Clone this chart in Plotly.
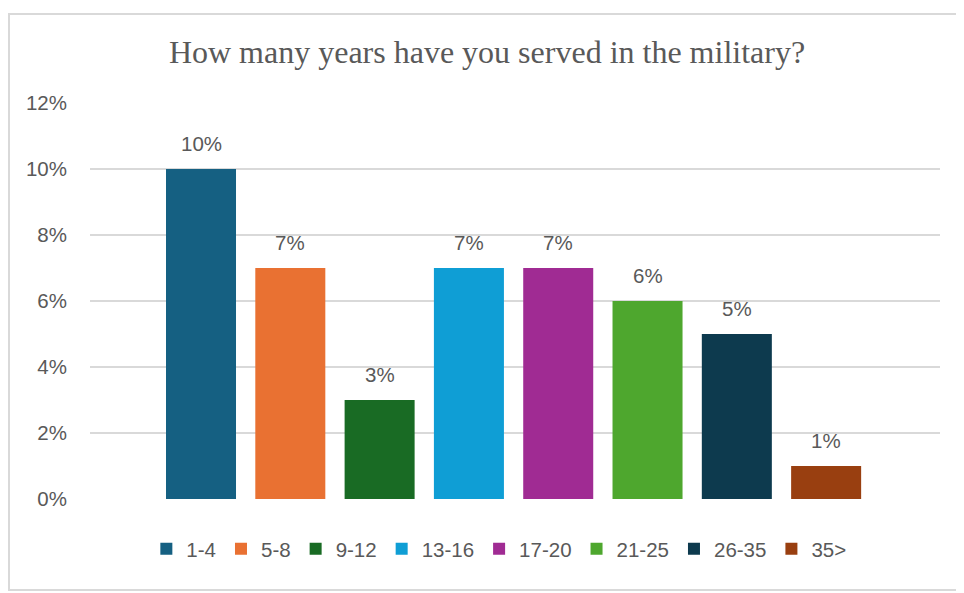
import plotly.graph_objects as go

categories = ["1-4", "5-8", "9-12", "13-16", "17-20", "21-25", "26-35", "35>"]
values = [0.10, 0.07, 0.03, 0.07, 0.07, 0.06, 0.05, 0.01]
colors = ["#156082", "#E97132", "#196B24", "#0F9ED5", "#A02B93", "#4EA72E", "#0D3A4E", "#993F10"]
title_text = "How many years have you served in the military?"

fig = go.Figure()
for name, v, c in zip(categories, values, colors):
    fig.add_trace(go.Bar(
        x=[name], y=[v], name=name,
        marker=dict(color=c, line=dict(width=0)),
        hoverinfo="name+y",
    ))
    fig.add_annotation(x=name, y=v, text=f"{v:.0%}", showarrow=False,
                       yanchor="bottom", yshift=12,
                       font=dict(family="Liberation Sans", size=20.5, color="#595959"))

# page body has an 8px offset; figure sized to fill the rest of the window
W, H = 956, 585
ml, mr, mt, mb = 82, 24, 95, 94
pw, ph = W - ml - mr, H - mt - mb

def px2x(px):
    return (px - ml) / pw

def py2y(py):
    return (H - mb - py) / ph

fig.update_layout(
    width=W, height=H,
    margin=dict(l=ml, r=mr, t=mt, b=mb),
    paper_bgcolor="white", plot_bgcolor="white",
    barmode="overlay", bargap=0.216,
    title=dict(text=title_text, x=479 / W, xanchor="center",
               y=1 - 44 / H, yanchor="middle",
               font=dict(family="Liberation Serif", size=32, color="#595959")),
    showlegend=True,
    legend=dict(orientation="h", x=0.481, xanchor="center", y=py2y(541), yanchor="middle",
                font=dict(family="Liberation Sans", size=20.5, color="#595959"),
                itemwidth=30, traceorder="normal"),
    xaxis=dict(type="category", range=[-1.243, 8.275],
               showticklabels=False, showgrid=False, zeroline=False, showline=False),
    yaxis=dict(range=[0, 0.12], dtick=0.02, tickformat=".0%",
               showgrid=True, gridcolor="#d9d9d9", gridwidth=1.5,
               zeroline=False, showline=False, ticks="",
               ticklabelstandoff=22,
               tickfont=dict(family="Liberation Sans", size=20.5, color="#595959")),
    shapes=[dict(type="rect", xref="paper", yref="paper",
                 x0=px2x(1), x1=px2x(W + 10), y0=py2y(582), y1=py2y(6),
                 line=dict(color="#d9d9d9", width=2), fillcolor="rgba(0,0,0,0)", layer="below")],
)

fig.write_html("out.html")
